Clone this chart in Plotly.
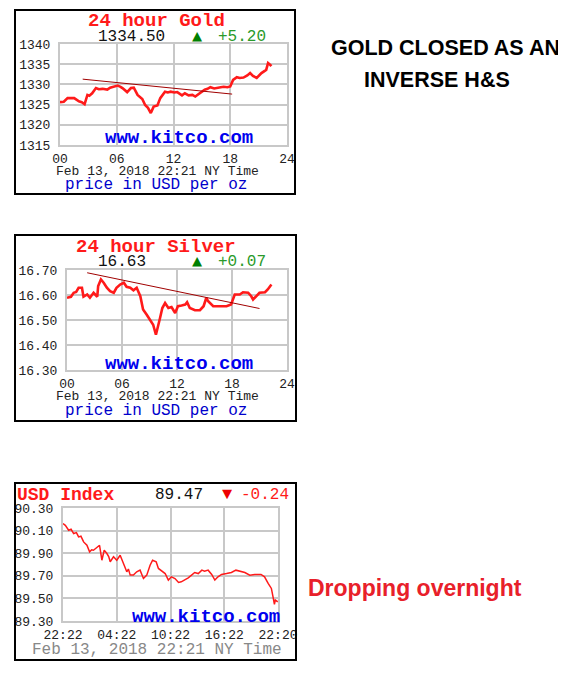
import plotly.graph_objects as go

# page body adds an 8px offset, so the figure is drawn slightly smaller and all
# reference pixel positions are shifted by that offset
OFF = 8
W, H = 566 - OFF, 677 - OFF

# ---------------- data ----------------
gold_hours = [0, 0.4, 0.8, 1.2, 1.5, 2.0, 2.3, 2.6, 2.9, 3.1, 3.4, 3.8, 4.1, 4.5, 5.0, 5.3, 5.7, 6.1, 6.4,
              6.6, 7.1, 7.5, 7.8, 8.2, 8.7, 9.0, 9.3, 9.6, 9.9, 10.3, 10.6, 11.1, 11.4, 11.7, 12.1, 12.4,
              12.9, 13.2, 13.6, 14.0, 14.3, 14.8, 15.3, 15.6, 15.9, 16.3, 16.6, 17.0, 17.3, 17.7, 18.0,
              18.3, 18.7, 19.0, 19.4, 19.8, 20.1, 20.4, 20.8, 21.3, 21.8, 22.0, 22.2, 22.35]
gold_prices = [1325.6, 1325.7, 1326.6, 1326.5, 1326.6, 1325.8, 1325.6, 1325.1, 1327.4, 1327.2, 1327.8, 1329.1,
               1328.8, 1328.9, 1328.7, 1329.2, 1329.5, 1329.7, 1329.4, 1329.1, 1328.1, 1329.1, 1329.2, 1327.4,
               1326.4, 1324.9, 1324.2, 1322.9, 1324.5, 1324.8, 1326.6, 1328.2, 1328.0, 1328.2, 1328.0, 1328.1,
               1327.3, 1327.8, 1327.3, 1327.4, 1327.0, 1327.8, 1328.7, 1328.9, 1329.3, 1329.0, 1329.2, 1329.3,
               1329.4, 1329.3, 1329.5, 1331.1, 1331.8, 1331.6, 1331.7, 1332.2, 1332.8, 1332.1, 1331.6, 1332.8,
               1333.6, 1335.3, 1334.9, 1334.5]
gold_trend_hours = [2.4, 18.2]
gold_trend_prices = [1331.3, 1327.6]

silver_hours = [0, 0.43, 0.73, 1.0, 1.27, 1.63, 1.8, 2.2, 2.5, 2.9, 3.3, 3.4, 3.7, 4.0, 4.35, 4.7, 5.1, 5.4,
                5.8, 6.2, 6.5, 6.9, 7.25, 7.6, 8.0, 8.3, 8.7, 9.1, 9.4, 9.7, 9.97, 10.15, 10.4, 10.7, 11.06,
                11.4, 11.8, 12.1, 12.5, 12.9, 13.1, 13.4, 13.96, 14.5, 14.9, 15.2, 15.4, 15.95, 16.7, 17.4,
                17.9, 18.3, 18.85, 19.2, 19.76, 20.1, 20.3, 20.67, 21.0, 21.6, 21.9, 22.3]
silver_prices = [16.589, 16.593, 16.609, 16.612, 16.629, 16.629, 16.593, 16.602, 16.589, 16.609, 16.593, 16.636,
                 16.662, 16.649, 16.629, 16.615, 16.609, 16.629, 16.642, 16.649, 16.633, 16.629, 16.619, 16.629,
                 16.595, 16.542, 16.521, 16.499, 16.481, 16.441, 16.488, 16.508, 16.548, 16.568, 16.548, 16.552,
                 16.528, 16.555, 16.558, 16.562, 16.571, 16.548, 16.539, 16.539, 16.555, 16.589, 16.575, 16.555,
                 16.555, 16.555, 16.562, 16.602, 16.602, 16.611, 16.609, 16.595, 16.582, 16.595, 16.609, 16.611,
                 16.622, 16.642]
silver_trend_hours = [2.2, 21.0]
silver_trend_prices = [16.689, 16.546]

usd_hours = [0, 0.26, 0.63, 0.9, 1.19, 1.5, 1.74, 2.0, 2.3, 2.67, 2.97, 3.2, 3.4, 3.8, 4.08, 4.34, 4.6, 4.9,
             5.1, 5.27, 5.64, 6.0, 6.2, 6.38, 6.75, 7.12, 7.3, 7.5, 7.86, 8.23, 8.6, 8.98, 9.35, 9.72, 10.0,
             10.4, 10.65, 11.0, 11.4, 11.76, 12.1, 12.5, 12.9, 13.2, 13.6, 13.98, 14.35, 14.7, 15.1, 15.5,
             15.8, 16.2, 16.6, 16.95, 17.3, 17.7, 18.25, 18.8, 19.3, 19.7, 20.3, 20.85, 21.4, 22.1, 22.5,
             22.9, 23.26, 23.44, 23.6, 23.7, 23.97]
usd_values = [90.162, 90.147, 90.103, 90.112, 90.074, 90.082, 90.044, 90.05, 90.0, 89.97, 89.912, 89.93,
              89.926, 89.956, 89.97, 89.838, 89.926, 89.897, 89.87, 89.824, 89.868, 89.838, 89.86, 89.882,
              89.809, 89.735, 89.76, 89.706, 89.706, 89.735, 89.75, 89.676, 89.706, 89.794, 89.838, 89.824,
              89.765, 89.741, 89.72, 89.662, 89.691, 89.676, 89.641, 89.647, 89.662, 89.682, 89.706, 89.729,
              89.72, 89.75, 89.741, 89.75, 89.712, 89.662, 89.691, 89.712, 89.72, 89.729, 89.75, 89.741,
              89.729, 89.706, 89.712, 89.712, 89.691, 89.632, 89.588, 89.515, 89.447, 89.485, 89.47]

hour_ticks = [0, 6, 12, 18, 24]
hour_labels = ["00", "06", "12", "18", "24"]
usd_tick_labels = ["22:22", "04:22", "10:22", "16:22", "22:20"]
gold_yticks = [1315, 1320, 1325, 1330, 1335, 1340]
silver_yticks = [16.30, 16.40, 16.50, 16.60, 16.70]
usd_yticks = [89.30, 89.50, 89.70, 89.90, 90.10, 90.30]

# ---------------- helpers ----------------
def fx(x):
    return (x - OFF) / W

def fy(y):
    return 1 - (y - OFF) / H

MONO = "Liberation Mono, Courier New, monospace"
SANS = "Liberation Sans, Arial, sans-serif"
RED = "#ff1a1a"
GRID = "#c8c8c8"

fig = go.Figure()

fig.add_trace(go.Scatter(x=gold_hours, y=gold_prices, mode="lines", line=dict(color=RED, width=2.6),
                         xaxis="x", yaxis="y", showlegend=False, hoverinfo="skip"))
fig.add_trace(go.Scatter(x=gold_trend_hours, y=gold_trend_prices, mode="lines", line=dict(color="#a00000", width=1),
                         xaxis="x", yaxis="y", showlegend=False, hoverinfo="skip"))
fig.add_trace(go.Scatter(x=silver_hours, y=silver_prices, mode="lines", line=dict(color=RED, width=2.6),
                         xaxis="x2", yaxis="y2", showlegend=False, hoverinfo="skip"))
fig.add_trace(go.Scatter(x=silver_trend_hours, y=silver_trend_prices, mode="lines", line=dict(color="#a00000", width=1),
                         xaxis="x2", yaxis="y2", showlegend=False, hoverinfo="skip"))
fig.add_trace(go.Scatter(x=usd_hours, y=usd_values, mode="lines", line=dict(color=RED, width=1.5),
                         xaxis="x3", yaxis="y3", showlegend=False, hoverinfo="skip"))

def xax(domain, anchor, ticktext):
    return dict(domain=domain, anchor=anchor, range=[0, 24], tickvals=hour_ticks, ticktext=ticktext,
                showgrid=True, gridcolor=GRID, gridwidth=2, zeroline=False, showline=True, linecolor=GRID,
                linewidth=2, mirror=True, ticks="", tickfont=dict(family=MONO, size=13, color="#222"),
                fixedrange=True, automargin=False)

def yax(domain, anchor, rng, tickvals, fmt):
    return dict(domain=domain, anchor=anchor, range=rng, tickvals=tickvals,
                ticktext=[fmt.format(v) for v in tickvals],
                showgrid=True, gridcolor=GRID, gridwidth=2, zeroline=False, showline=True, linecolor=GRID,
                linewidth=2, mirror=True, ticks="outside", ticklen=5, tickcolor="rgba(0,0,0,0)",
                tickfont=dict(family=MONO, size=13, color="#222"), fixedrange=True, automargin=False)

# plot areas (reference pixel coordinates)
gold_box = (60, 287, 44, 145)
silver_box = (67, 287, 270, 370)
usd_box = (63, 278, 508, 621)

def dom(b):
    return [fx(b[0]), fx(b[1])], [fy(b[3]), fy(b[2])]

gxd, gyd = dom(gold_box)
sxd, syd = dom(silver_box)
uxd, uyd = dom(usd_box)

fig.update_layout(
    template="none",
    width=W, height=H, margin=dict(l=0, r=0, t=0, b=0, pad=0, autoexpand=False),
    paper_bgcolor="white", plot_bgcolor="white", showlegend=False,
    xaxis=xax(gxd, "y", hour_labels),
    yaxis=yax(gyd, "x", [1315, 1340], gold_yticks, "{:.0f}"),
    xaxis2=xax(sxd, "y2", hour_labels),
    yaxis2=yax(syd, "x2", [16.30, 16.70], silver_yticks, "{:.2f}"),
    xaxis3=xax(uxd, "y3", usd_tick_labels),
    yaxis3=yax(uyd, "x3", [89.30, 90.30], usd_yticks, "{:.2f}"),
)

shapes = []
for (x0, x1, y0, y1) in [(15, 295, 10, 194), (15, 296, 235, 421), (15, 296, 483, 660)]:
    shapes.append(dict(type="rect", xref="paper", yref="paper", x0=fx(x0), x1=fx(x1), y0=fy(y1), y1=fy(y0),
                       line=dict(color="black", width=2), fillcolor="rgba(0,0,0,0)", layer="above"))
fig.update_layout(shapes=shapes)

ann = []
def text(x, y, s, size, color, bold=False, family=MONO, xanchor="center"):
    ann.append(dict(x=fx(x), y=fy(y), xref="paper", yref="paper", text=("<b>%s</b>" % s) if bold else s,
                    showarrow=False, xanchor=xanchor, yanchor="middle", borderpad=0,
                    font=dict(family=family, size=size, color=color)))

# Gold panel
text(156, 21, "24 hour Gold", 19, RED, bold=True)
text(131, 37, "1334.50", 16, "#111")
text(197, 37, "▲", 17, "#008000")
text(242, 37, "+5.20", 16, "#2a9a2a")
text(179, 138, "www.kitco.com", 19, "#0000ee", bold=True)
text(157, 171, "Feb 13, 2018 22:21 NY Time", 13, "#222")
text(156, 185, "price in USD per oz", 16, "#0000cc")

# Silver panel
text(156, 247, "24 hour Silver", 19, RED, bold=True)
text(122, 262, "16.63", 16, "#111")
text(197, 262, "▲", 17, "#008000")
text(242, 262, "+0.07", 16, "#2a9a2a")
text(179, 364, "www.kitco.com", 19, "#0000ee", bold=True)
text(157, 396, "Feb 13, 2018 22:21 NY Time", 13, "#222")
text(156, 411, "price in USD per oz", 16, "#0000cc")

# USD panel
text(16, 495, "USD Index", 18, RED, bold=True, xanchor="left")
text(179, 495, "89.47", 16, "#111")
text(227, 495, "▼", 17, "#ee0000")
text(265, 495, "-0.24", 16, RED)
text(206, 617, "www.kitco.com", 19, "#0000ee", bold=True)
text(157, 650, "Feb 13, 2018 22:21 NY Time", 16, "#888")

# Commentary
text(445, 48, "GOLD CLOSED AS AN", 21.5, "black", bold=True, family=SANS)
text(437, 80, "INVERSE H&S", 21.5, "black", bold=True, family=SANS)
text(415, 588, "Dropping overnight", 23, "#e8202a", bold=True, family=SANS)

fig.update_layout(annotations=ann)

fig.write_html("out.html")
